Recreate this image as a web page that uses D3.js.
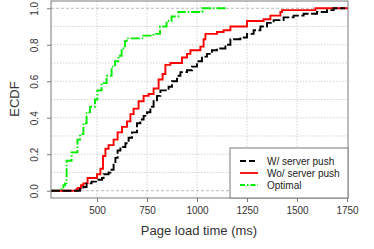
<!DOCTYPE html>
<html><head><meta charset="utf-8">
<script src="https://cdn.jsdelivr.net/npm/d3@7"></script>
<style>body{margin:0;background:#fff}svg{display:block}</style>
</head><body>
<script>
// Step points (load time in ms, ECDF value)
const wPushX = [270,415,432,448,473,500,525,533,558,567,583,592,603,617,642,658,675,700,717,733,750,767,783,800,817,842,858,875,900,917,950,975,1000,1025,1050,1075,1100,1142,1167,1217,1250,1283,1317,1350,1383,1433,1483,1533,1600,1650,1683,1740];
const wPushY = [0,0.01,0.02,0.04,0.05,0.06,0.07,0.09,0.10,0.115,0.15,0.18,0.22,0.24,0.26,0.29,0.32,0.37,0.39,0.41,0.43,0.46,0.49,0.52,0.55,0.55,0.57,0.60,0.63,0.65,0.66,0.68,0.71,0.735,0.75,0.77,0.78,0.80,0.83,0.84,0.86,0.88,0.90,0.92,0.935,0.95,0.96,0.97,0.98,0.99,1.0,1.0];
const woPushX = [270,398,405,420,432,453,483,500,517,530,542,558,583,603,625,650,667,683,708,733,758,783,808,828,842,867,908,925,950,967,992,1017,1033,1042,1075,1100,1133,1167,1242,1250,1333,1367,1417,1425,1583,1592,1755];
const woPushY = [0,0.01,0.015,0.03,0.04,0.07,0.07,0.09,0.12,0.19,0.23,0.25,0.28,0.32,0.35,0.38,0.42,0.45,0.49,0.52,0.53,0.56,0.61,0.64,0.69,0.70,0.70,0.73,0.75,0.77,0.77,0.79,0.83,0.86,0.86,0.87,0.88,0.90,0.90,0.93,0.94,0.96,0.98,0.99,0.99,1.0,1.0];
const optX = [270,323,332,340,348,365,373,390,402,415,432,448,465,490,502,523,548,573,590,607,623,640,648,732,782,815,848,873,907,1015,1027,1148];
const optY = [0,0.01,0.03,0.04,0.164,0.164,0.21,0.21,0.28,0.31,0.37,0.43,0.46,0.50,0.55,0.59,0.63,0.68,0.71,0.74,0.78,0.82,0.835,0.85,0.86,0.90,0.93,0.955,0.98,0.98,1.0,1.0];

const xTicks = [500,750,1000,1250,1500,1750];
const yTicks = [0,0.2,0.4,0.6,0.8,1.0];
const yGrid = [0,0.1,0.2,0.3,0.4,0.5,0.6,0.7,0.8,0.9,1.0];
const seriesNames = ["W/ server push","Wo/ server push","Optimal"];

const W=374,H=249;
const svg=d3.select("body").append("svg").attr("width",W).attr("height",H)
  .style("font-family","'Liberation Sans',Arial,sans-serif");
const x=d3.scaleLinear().domain([270,1755]).range([51,348]);
const y=d3.scaleLinear().domain([-0.04,1.04]).range([198,1]);

// grid
svg.append("g").selectAll("line").data(xTicks.slice(0,5)).join("line")
  .attr("x1",d=>x(d)).attr("x2",d=>x(d)).attr("y1",1).attr("y2",198)
  .attr("stroke","#c8c8c8").attr("stroke-dasharray","1.5,1.5").attr("stroke-width",0.8);
svg.append("g").selectAll("line").data(yGrid).join("line")
  .attr("x1",51).attr("x2",348).attr("y1",d=>y(d)).attr("y2",d=>y(d))
  .attr("stroke",d=>(d===0||d===1)?"#a8a8a8":"#c8c8c8")
  .attr("stroke-dasharray",d=>(d===0||d===1)?"3,2":"1.5,1.5").attr("stroke-width",0.8);

const line=d3.line().x(d=>x(d[0])).y(d=>y(d[1])).curve(d3.curveStepAfter);
const series=[
  {xs:wPushX,ys:wPushY,color:"#000",dash:"9,2.5",ldash:"6,3"},
  {xs:woPushX,ys:woPushY,color:"#ff0000",dash:null,ldash:null},
  {xs:optX,ys:optY,color:"#00ee00",dash:"9,2,1.5,2",ldash:"5,2,1.5,2"}
];
series.slice().reverse().forEach(s=>{
  svg.append("path").datum(s.xs.map((v,i)=>[v,s.ys[i]]))
    .attr("d",line).attr("fill","none").attr("stroke",s.color)
    .attr("stroke-width",1.9).attr("stroke-dasharray",s.dash);
});

// box
svg.append("rect").attr("x",51).attr("y",1).attr("width",297).attr("height",197)
  .attr("fill","none").attr("stroke","#7a7a7a").attr("stroke-width",1);

// axes
const xa=d3.axisBottom(x).tickValues(xTicks).tickSize(4).tickPadding(5).tickFormat(d3.format("d"));
const gx=svg.append("g").attr("transform","translate(0,198)").call(xa);
gx.select(".domain").remove();
gx.selectAll("line").attr("stroke","#7a7a7a");
gx.selectAll("text").attr("font-size",10).attr("fill","#333").attr("font-family","'Liberation Sans',Arial,sans-serif");

const ya=d3.axisLeft(y).tickValues(yTicks).tickSize(4).tickFormat(d3.format(".1f"));
const gy=svg.append("g").attr("transform","translate(51,0)").call(ya);
gy.select(".domain").remove();
gy.selectAll("line").attr("stroke","#7a7a7a");
gy.selectAll("text").attr("font-size",10).attr("fill","#333")
  .attr("font-family","'Liberation Sans',Arial,sans-serif")
  .attr("text-anchor","middle").attr("x",0).attr("dy",0)
  .attr("transform","translate(-17,0) rotate(-90)");
gy.selectAll(".tick text").attr("dy","0.35em");

svg.append("text").attr("x",199).attr("y",235).attr("text-anchor","middle")
  .attr("font-size",13).attr("fill","#333").text("Page load time (ms)");
svg.append("text").attr("transform","translate(19,99) rotate(-90)").attr("text-anchor","middle")
  .attr("font-size",13).attr("fill","#333").text("ECDF");

// legend
const lg=svg.append("g");
lg.append("rect").attr("x",230).attr("y",148).attr("width",118).attr("height",50)
  .attr("fill","#fff").attr("stroke","#7a7a7a");
seriesNames.forEach((n,i)=>{
  const yy=161+i*12;
  lg.append("line").attr("x1",240).attr("x2",258).attr("y1",yy).attr("y2",yy)
    .attr("stroke",series[i].color).attr("stroke-width",1.8).attr("stroke-dasharray",series[i].ldash);
  lg.append("text").attr("x",267).attr("y",yy).attr("dy","0.35em").attr("font-size",10)
    .attr("fill","#222").text(n);
});
</script>
</body></html>
